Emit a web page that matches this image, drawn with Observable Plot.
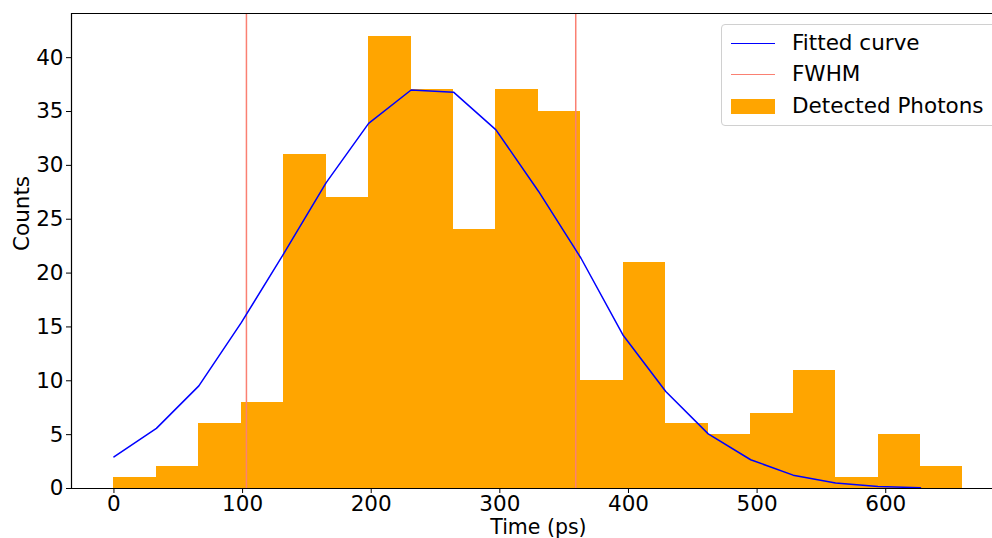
<!DOCTYPE html>
<html>
<head>
<meta charset="utf-8">
<script src="https://cdn.jsdelivr.net/npm/d3@7"></script>
<script src="https://cdn.jsdelivr.net/npm/@observablehq/plot@0.6"></script>
<style>
  html, body { margin: 0; padding: 0; background: #fff; }
  #wrap { position: relative; width: 992px; height: 538px; overflow: hidden; font-family: "DejaVu Sans", sans-serif; }
  #legend { position: absolute; left: 721px; top: 24px; width: 300px; height: 102px; box-sizing: border-box;
            border: 1px solid #d0d0d0; border-radius: 4px; background: rgba(255,255,255,0.8); font-size: 21.5px; color: #000; }
  .row { position: absolute; left: 0; height: 24px; }
  .sw { position: absolute; left: 9px; width: 44px; }
  .lab { position: absolute; left: 70px; white-space: nowrap; line-height: 24px; top: 0; }
</style>
</head>
<body>
<div id="wrap"></div>
<script>
// Histogram bins (left and right edges, ps) and counts
const binStart = [0, 33, 66, 99, 132, 165, 198, 231, 264, 297, 330, 363, 396, 429, 462, 495, 528, 561, 594, 627];
const binEnd   = [33, 66, 99, 132, 165, 198, 231, 264, 297, 330, 363, 396, 429, 462, 495, 528, 561, 594, 627, 660];
const counts   = [1, 2, 6, 8, 31, 27, 42, 37, 24, 37, 35, 10, 21, 6, 5, 7, 11, 1, 5, 2];

// Fitted curve (sampled at bin left edges)
const fitX = [0, 33, 66, 99, 132, 165, 198, 231, 264, 297, 330, 363, 396, 429, 462, 495, 528, 561, 594, 627];
const fitY = [2.93, 5.58, 9.53, 15.4, 21.8, 28.4, 33.9, 37.0, 36.8, 33.3, 27.6, 21.4, 14.2, 9.0, 5.07, 2.67, 1.24, 0.51, 0.19, 0.06];

// FWHM positions
const fwhm = [103, 359];

// Ticks
const xTicks = [0, 100, 200, 300, 400, 500, 600];
const yTicks = [0, 5, 10, 15, 20, 25, 30, 35, 40];

const bars = binStart.map((s, i) => ({x1: s, x2: binEnd[i], y: counts[i]}));
const fit = fitX.map((x, i) => ({x, y: fitY[i]}));

const FS = 21.5;

const chart = Plot.plot({
  width: 992,
  height: 538,
  marginLeft: 71,
  marginRight: 0,
  marginTop: 13,
  marginBottom: 50,
  style: {fontFamily: "DejaVu Sans, sans-serif", fontSize: FS + "px", color: "#000", background: "#fff", overflow: "visible"},
  x: {domain: [-33, 683], ticks: xTicks, tickSize: 5, tickPadding: 4, label: null},
  y: {domain: [0, 44.1], ticks: yTicks, tickSize: 5, tickPadding: 4, label: null},
  marks: [
    Plot.rectY(bars, {x1: "x1", x2: "x2", y: "y", fill: "#ffa500", inset: 0, shapeRendering: "crispEdges"}),
    Plot.ruleX(fwhm, {stroke: "#fa8072", strokeWidth: 1.5}),
    Plot.line(fit, {x: "x", y: "y", stroke: "#0000ff", strokeWidth: 1.5}),
    Plot.ruleY([0], {stroke: "#000", strokeWidth: 1.2}),
    Plot.ruleY([44.1], {stroke: "#000", strokeWidth: 1.2}),
    Plot.ruleX([-33], {stroke: "#000", strokeWidth: 1.2}),
    Plot.axisX({ticks: xTicks, tickSize: 5, tickPadding: 2, label: null, fontSize: FS}),
    Plot.axisY({ticks: yTicks, tickSize: 5, tickPadding: 3, label: null, fontSize: FS}),
    Plot.text(["Time (ps)"], {frameAnchor: "bottom", dy: 45, fontSize: 20.5, lineAnchor: "bottom", x: () => 330}),
    Plot.text(["Counts"], {frameAnchor: "left", dx: -49, rotate: -90, fontSize: FS})
  ]
});

const wrap = document.getElementById("wrap");
wrap.appendChild(chart);

const legend = document.createElement("div");
legend.id = "legend";
const items = [
  {label: "Fitted curve", kind: "line", color: "#0000ff", top: 6},
  {label: "FWHM", kind: "line", color: "#fa8072", top: 37},
  {label: "Detected Photons", kind: "patch", color: "#ffa500", top: 69}
];
for (const it of items) {
  const row = document.createElement("div");
  row.className = "row";
  row.style.top = it.top + "px";
  row.style.width = "100%";
  const sw = document.createElement("div");
  sw.className = "sw";
  if (it.kind === "line") {
    sw.style.height = "1.5px"; sw.style.background = it.color; sw.style.top = "11.5px";
  } else {
    sw.style.height = "15px"; sw.style.background = it.color; sw.style.top = "5px";
  }
  const lab = document.createElement("div");
  lab.className = "lab";
  lab.textContent = it.label;
  row.appendChild(sw);
  row.appendChild(lab);
  legend.appendChild(row);
}
wrap.appendChild(legend);
</script>
</body>
</html>
